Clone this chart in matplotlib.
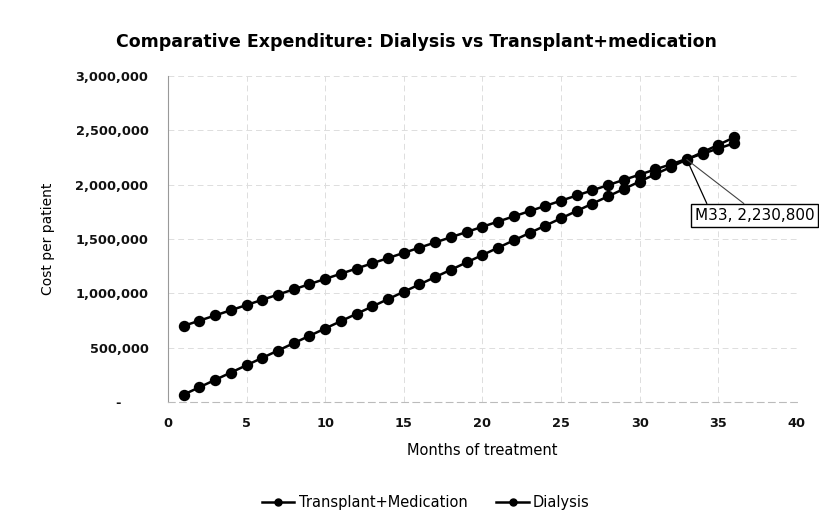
import matplotlib
matplotlib.use('Agg')
import matplotlib.pyplot as plt
from matplotlib.ticker import FuncFormatter

# months 1..36
months = list(range(1, 37))
# cost per patient
transplant = [700000, 748000, 796000, 844000, 892000, 940000, 988000, 1036000,
              1084000, 1132000, 1180000, 1228000, 1276000, 1324000, 1372000,
              1420000, 1468000, 1516000, 1564000, 1612000, 1660000, 1708000,
              1756000, 1804000, 1852000, 1900000, 1948000, 1996000, 2044000,
              2092000, 2140000, 2188000, 2236000, 2284000, 2332000, 2380000]
dialysis = [67600, 135200, 202800, 270400, 338000, 405600, 473200, 540800,
            608400, 676000, 743600, 811200, 878800, 946400, 1014000, 1081600,
            1149200, 1216800, 1284400, 1352000, 1419600, 1487200, 1554800,
            1622400, 1690000, 1757600, 1825200, 1892800, 1960400, 2028000,
            2095600, 2163200, 2230800, 2298400, 2366000, 2433600]
series_names = ['Transplant+Medication', 'Dialysis']
callout_month = 33

fig = plt.figure(figsize=(8.19, 5.31), dpi=100)
ax = fig.add_axes([0.205, 0.243, 0.768, 0.614])

ax.plot(months, transplant, color='black', lw=1.8, marker='o', ms=7.2,
        label=series_names[0])
ax.plot(months, dialysis, color='black', lw=1.8, marker='o', ms=7.2,
        label=series_names[1])

ax.set_xlim(0, 40)
ax.set_ylim(0, 3000000)
ax.set_xticks(range(0, 41, 5))
ax.set_yticks(range(0, 3000001, 500000))
ax.yaxis.set_major_formatter(FuncFormatter(lambda v, p: '-      ' if v == 0 else f'{v:,.0f}'))
ax.tick_params(length=0, labelsize=9.3, colors='#111111')
ax.tick_params(axis='y', pad=14)
ax.tick_params(axis='x', pad=11)
for lab in ax.get_xticklabels() + ax.get_yticklabels():
    lab.set_fontweight('bold')

ax.grid(True, color='#dddddd', ls=(0, (6, 4)), lw=0.7)
for side in ['top', 'right']:
    ax.spines[side].set_visible(False)
ax.spines['left'].set_color('#999999')
ax.spines['left'].set_linewidth(0.8)
ax.spines['bottom'].set_color('#bbbbbb')
ax.spines['bottom'].set_linestyle((0, (6, 4)))
ax.spines['bottom'].set_linewidth(0.8)

ax.set_ylabel('Cost per patient', fontsize=10, labelpad=15)
ax.set_xlabel('Months of treatment', fontsize=10.5, labelpad=9)

fig.text(0.509, 0.921, 'Comparative Expenditure: Dialysis vs Transplant+medication',
         ha='center', va='center', fontsize=12.5, fontweight='bold')

# callout at the crossing point
cx = callout_month
cy = dialysis[months.index(callout_month)]
ax.annotate('', xy=(cx, cy), xytext=(20, -44), textcoords='offset pixels',
            arrowprops=dict(arrowstyle='-', color='black', lw=0.9, shrinkA=0, shrinkB=0))
ax.annotate('', xy=(cx, cy), xytext=(57, -44), textcoords='offset pixels',
            arrowprops=dict(arrowstyle='-', color='#444444', lw=0.8, shrinkA=0, shrinkB=0))
ax.annotate(f'M{callout_month}, {cy:,.0f}', xy=(cx, cy), xytext=(8, -56),
            textcoords='offset pixels', ha='left', va='center', fontsize=11,
            bbox=dict(boxstyle='square,pad=0.25', fc='white', ec='black', lw=1.0),
            annotation_clip=False)

fig.legend(loc='center', bbox_to_anchor=(0.52, 0.054), ncol=2, frameon=False,
           fontsize=10.5, handlelength=2.2, columnspacing=2.0, handletextpad=0.3,
           markerscale=0.7)

fig.savefig('out.png', dpi=100)
